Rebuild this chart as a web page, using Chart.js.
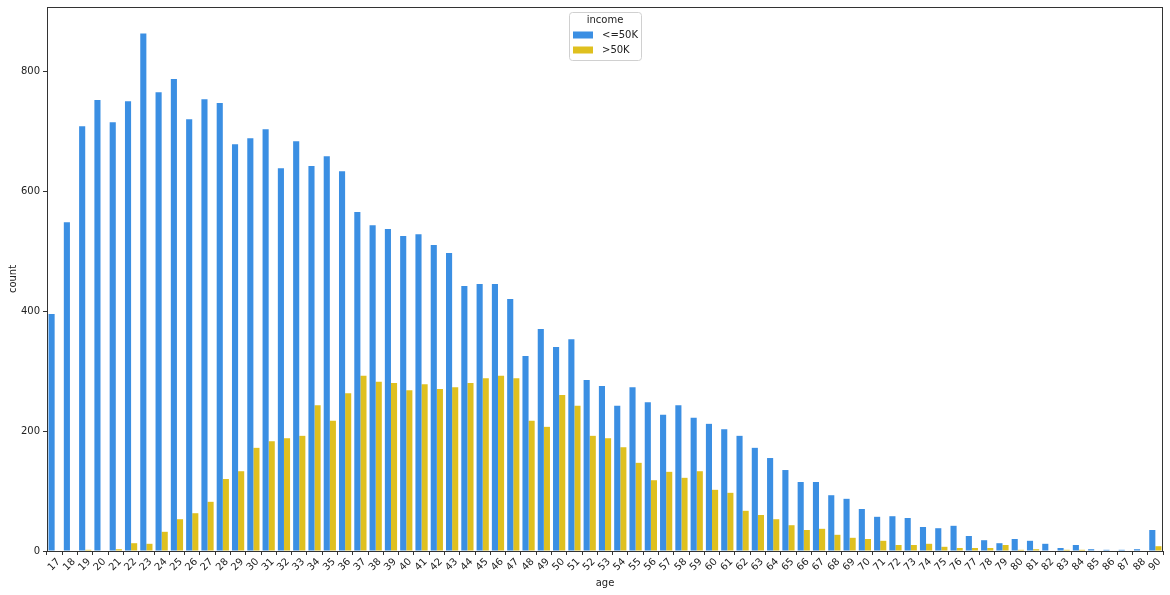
<!DOCTYPE html>
<html>
<head>
<meta charset="utf-8">
<script src="https://cdn.jsdelivr.net/npm/chart.js@4"></script>
<style>
  html, body { margin: 0; padding: 0; background: #fff; }
  #wrap { width: 1170px; height: 595px; position: relative; }
</style>
</head>
<body>
<div id="wrap"><canvas id="grafico"></canvas></div>
<script>
// idades (89 não aparece no gráfico)
const idades = [17,18,19,20,21,22,23,24,25,26,27,28,29,30,31,32,33,34,35,36,37,38,39,40,41,42,43,44,45,46,47,48,49,50,51,52,53,54,55,56,57,58,59,60,61,62,63,64,65,66,67,68,69,70,71,72,73,74,75,76,77,78,79,80,81,82,83,84,85,86,87,88,90];

const ate50k = [395,548,708,752,715,750,863,765,787,720,753,747,678,688,703,638,683,642,658,633,565,543,537,525,528,510,497,442,445,445,420,325,370,340,353,285,275,242,273,248,227,243,222,212,203,192,172,155,135,115,115,93,87,70,57,58,55,40,38,42,25,18,13,20,17,12,5,10,3,2,2,3,35];

const acima50k = [0,0,2,0,3,13,12,32,53,63,82,120,133,172,183,188,192,243,217,263,292,282,280,268,278,270,273,280,288,292,288,217,207,260,242,192,188,173,147,118,132,122,133,102,97,67,60,53,43,35,37,27,22,20,17,10,10,12,7,5,5,5,10,2,3,0,2,2,0,0,0,0,8];

const rotulos = ['<=50K', '>50K'];
const ticksY = [0, 200, 400, 600, 800];

const corAzul = '#3b8fe3';
const corAmarela = '#dfc01f';
const fonte = 'DejaVu Sans';

// moldura completa (como matplotlib)
const moldura = {
    id: 'moldura',
    afterDraw(chart) {
        const { ctx, chartArea: a } = chart;
        ctx.save();
        ctx.strokeStyle = '#333';
        ctx.lineWidth = 1;
        ctx.strokeRect(a.left + 0.5, a.top + 0.5, a.right - a.left - 1, a.bottom - a.top);
        ctx.restore();
    }
};

// legenda dentro do gráfico
const legenda = {
    id: 'legenda',
    afterDraw(chart) {
        const { ctx } = chart;
        const x = 569, y = 12, w = 72, h = 48;
        ctx.save();
        ctx.fillStyle = 'rgba(255,255,255,0.85)';
        ctx.strokeStyle = '#d0d0d0';
        ctx.lineWidth = 1;
        ctx.beginPath();
        ctx.roundRect(x + 0.5, y + 0.5, w, h, 3);
        ctx.fill();
        ctx.stroke();

        ctx.font = '10px "' + fonte + '"';
        ctx.fillStyle = '#222';
        ctx.textBaseline = 'middle';
        ctx.textAlign = 'center';
        ctx.fillText('income', x + w / 2, y + 8);

        ctx.textAlign = 'left';
        chart.data.datasets.forEach((ds, i) => {
            const yy = y + 23 + i * 15;
            ctx.fillStyle = ds.backgroundColor;
            ctx.fillRect(x + 4, yy - 3.5, 20, 7);
            ctx.fillStyle = '#222';
            ctx.fillText(ds.label, x + 33, yy);
        });
        ctx.restore();
    }
};

const ctx = document.getElementById('grafico').getContext('2d');

new Chart(ctx, {
    type: 'bar',
    data: {
        labels: idades,
        datasets: [
            { label: rotulos[0], data: ate50k, backgroundColor: corAzul },
            { label: rotulos[1], data: acima50k, backgroundColor: corAmarela }
        ]
    },
    options: {
        responsive: true,
        maintainAspectRatio: false,
        animation: false,
        layout: { padding: { top: 7, right: 7, left: 0, bottom: 0 } },
        datasets: {
            bar: { categoryPercentage: 0.8, barPercentage: 1.0 }
        },
        plugins: {
            legend: { display: false },
            tooltip: { enabled: false }
        },
        scales: {
            x: {
                grid: { display: true, drawOnChartArea: false, drawTicks: true, tickLength: 4, color: '#333' },
                border: { display: true, color: '#333', width: 1 },
                ticks: {
                    autoSkip: false,
                    maxRotation: 45,
                    minRotation: 45,
                    padding: 1,
                    labelOffset: 4,
                    color: '#222',
                    font: { family: fonte, size: 10 }
                },
                title: {
                    display: true,
                    text: 'age',
                    color: '#222',
                    font: { family: fonte, size: 10 },
                    padding: 6
                },
                afterFit(scale) {
                    scale.height = 44;
                    scale.paddingLeft = 0;
                    scale.paddingRight = 0;
                }
            },
            y: {
                min: 0,
                max: 907,
                grid: { display: true, drawOnChartArea: false, drawTicks: true, tickLength: 4, color: '#333' },
                border: { display: true, color: '#333', width: 1 },
                ticks: {
                    stepSize: 200,
                    padding: 3,
                    color: '#222',
                    font: { family: fonte, size: 10 }
                },
                afterBuildTicks(scale) {
                    scale.ticks = ticksY.map(v => ({ value: v }));
                },
                title: {
                    display: true,
                    text: 'count',
                    color: '#222',
                    font: { family: fonte, size: 10 },
                    padding: 7
                },
                afterFit(scale) {
                    scale.width = 47;
                    scale.paddingTop = 0;
                    scale.paddingBottom = 0;
                }
            }
        }
    },
    plugins: [moldura, legenda]
});
</script>
</body>
</html>
